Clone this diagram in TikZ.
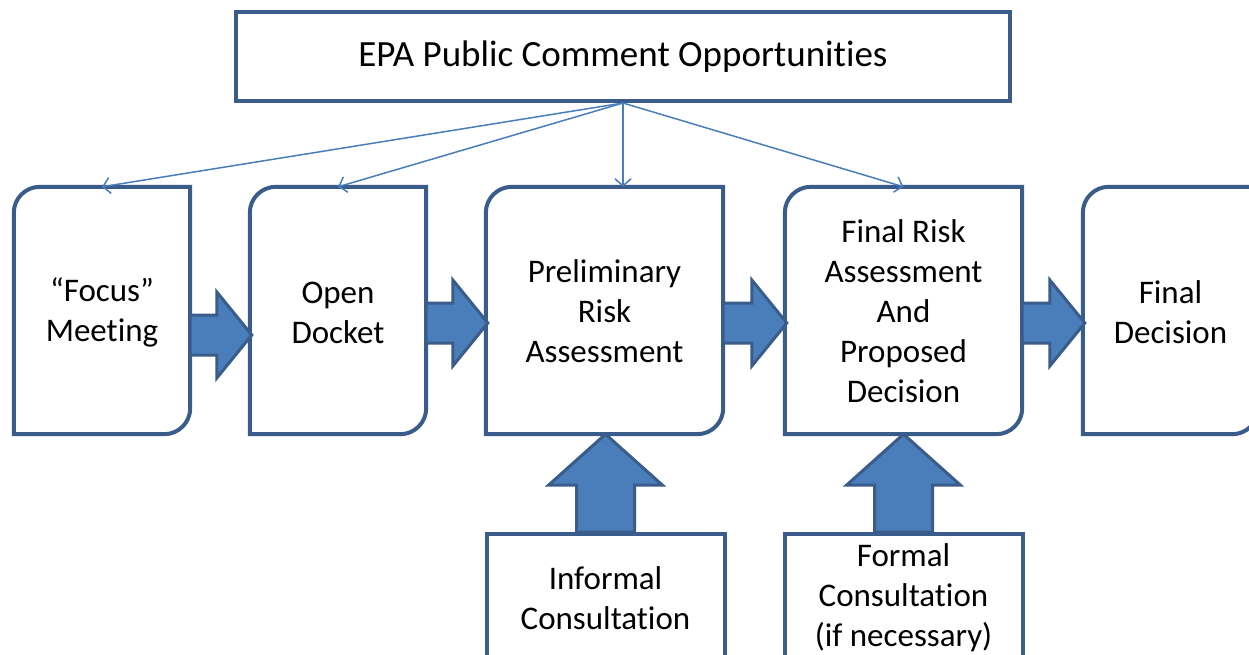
\documentclass[tikz,border=0pt]{standalone}
\usepackage{fontspec}
\setmainfont{Carlito}[Ligatures=TeX,RawFeature={-liga;-clig;-calt}]
\usetikzlibrary{arrows.meta,calc}
\definecolor{bord}{RGB}{58,92,138}
\definecolor{afill}{RGB}{74,126,187}
\definecolor{thinc}{RGB}{74,126,187}
\newcommand\nolig{\kern0pt{}}
\newcommand\stageoutline[1]{%
  \draw[stageline] ([yshift=-26pt]#1.north west) arc[start angle=180,end angle=90,radius=26pt]
    -- (#1.north east) -- ([yshift=26pt]#1.south east) arc[start angle=0,end angle=-90,radius=26pt]
    -- (#1.south west) -- cycle;}
\newcommand\harr[3]{%
  \coordinate (s#1) at (#1.east |- 0,#3);
  \coordinate (t#1) at (#2.west |- 0,#3);
  \draw[blockarrow] ([yshift=20pt]s#1) -- ([xshift=-33pt,yshift=20pt]t#1) -- ([xshift=-33pt,yshift=43pt]t#1)
    -- ([xshift=2pt]t#1) -- ([xshift=-33pt,yshift=-43pt]t#1) -- ([xshift=-33pt,yshift=-20pt]t#1)
    -- ([yshift=-20pt]s#1) -- cycle;}
\newcommand\varr[2]{%
  \coordinate (v#1) at (#1.north |- #2.south);
  \draw[blockarrow] ([xshift=-29pt]#1.north) -- ([xshift=-29pt,yshift=-51pt]v#1) -- ([xshift=-57pt,yshift=-51pt]v#1)
    -- (v#1) -- ([xshift=57pt,yshift=-51pt]v#1) -- ([xshift=29pt,yshift=-51pt]v#1)
    -- ([xshift=29pt]#1.north) -- cycle;}
\begin{document}
\begin{tikzpicture}[x=1pt,y=-1pt,
  boxtext/.style={align=center,font=\fontsize{33}{40}\selectfont,text=black,inner sep=0pt},
  stagebox/.style={boxtext,minimum height=247pt},
  stageline/.style={draw=bord,line width=4pt,fill=white},
  sidebox/.style={boxtext,draw=bord,line width=4pt,fill=white,minimum width=238pt,minimum height=128pt},
  blockarrow/.style={draw=bord,line width=3pt,fill=afill,line join=miter},
  thinarrow/.style={draw=thinc,line width=1.5pt,-{Straight Barb[length=7pt,width=16pt]}}]
\fill[white] (0,0) rectangle (1249,654);
\useasboundingbox (0,0) rectangle (1249,654);
% stage boxes (outlines first, then text nodes on top)
\path (102,310.5) node[stagebox,minimum width=176pt] (b1) {};
\path (338,310.5) node[stagebox,minimum width=176pt] (b2) {};
\path (604.5,310.5) node[stagebox,minimum width=237pt] (b3) {};
\path (903.5,310.5) node[stagebox,minimum width=237pt] (b4) {};
\path (1170.5,310.5) node[stagebox,minimum width=175pt] (b5) {};
\stageoutline{b1}\stageoutline{b2}\stageoutline{b3}\stageoutline{b4}\stageoutline{b5}
\node[boxtext] (t1) at ([yshift=-2pt]b1) {“Focus”\\Meet\nolig ing};
\node[boxtext] (t2) at ([yshift=-2pt]b2) {Open\\Docket};
\node[boxtext] (t3) at ([yshift=-1pt]b3) {Preliminary\\Risk\\Assessment};
\node[boxtext] (t4) at ([yshift=-1pt]b4) {Final Risk\\Assessment\\And\\Proposed\\Decision};
\node[boxtext] (t5) at ([yshift=-2pt]b5) {Final\\Decision};
% top box
\node[boxtext,draw=bord,line width=4pt,fill=white,minimum width=774pt,minimum height=89pt,
  font=\fontsize{37}{44}\selectfont] (top) at (623,56.5) {EPA Public Comment Opportunit\nolig ies};
% bottom boxes
\node[sidebox] (inf) at (605.5,598) {Informal\\Consultat\nolig ion};
\node[sidebox] (for) at (903.5,598) {Formal\\Consultat\nolig ion\\(if necessary)};
% block arrows
\harr{b1}{b2}{335}
\harr{b2}{b3}{323}
\harr{b3}{b4}{323}
\harr{b4}{b5}{323}
\varr{inf}{b3}
\varr{for}{b4}
% thin arrows
\draw[thinarrow] (top.south) -- (b1.north);
\draw[thinarrow] (top.south) -- (b2.north);
\draw[thinarrow] (top.south) -- (top.south |- b3.north);
\draw[thinarrow] (top.south) -- (b4.north);
\end{tikzpicture}
\end{document}
